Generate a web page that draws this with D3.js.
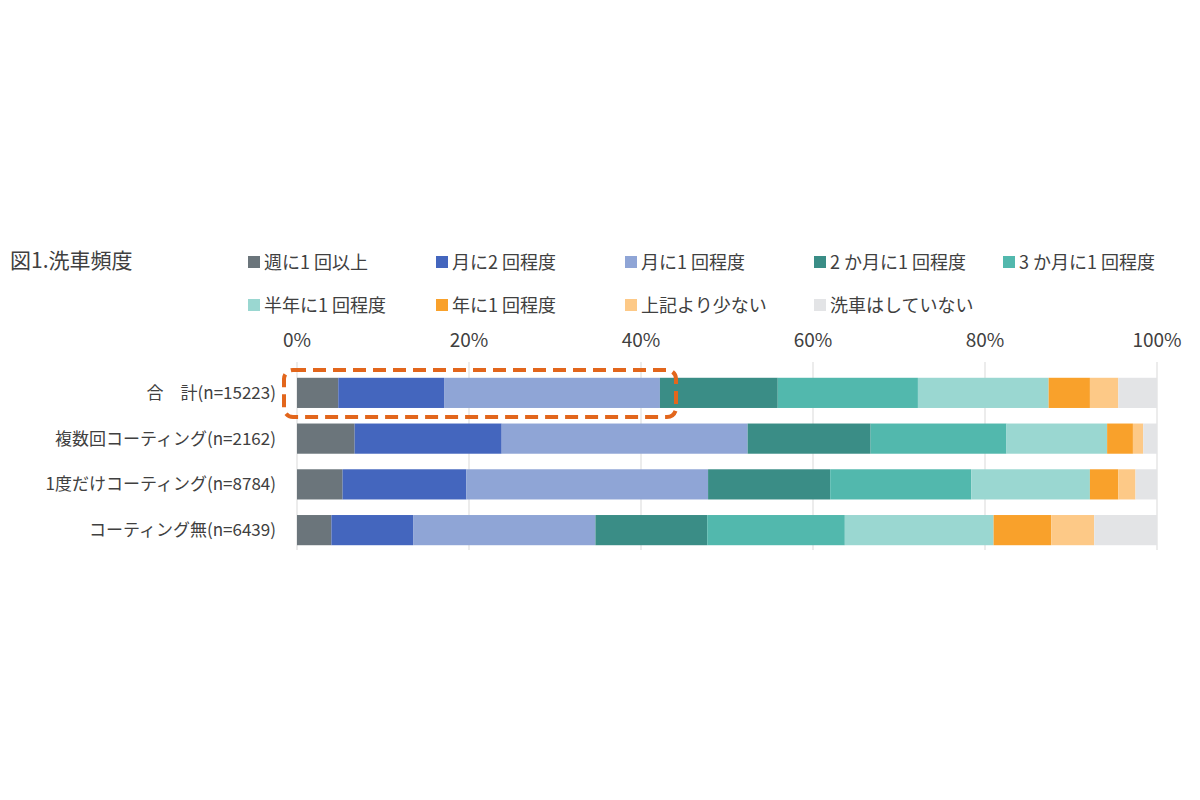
<!DOCTYPE html>
<html><head><meta charset="utf-8">
<script src="https://cdn.jsdelivr.net/npm/d3@7"></script>
<style>body{margin:0;background:#fff}text{font-family:"Noto Sans CJK JP","Noto Sans",sans-serif;fill:#404040}</style>
</head><body><svg id="c" width="1200" height="800"></svg>
<script>
const categories=["合　計(n=15223)","複数回コーティング(n=2162)","1度だけコーティング(n=8784)","コーティング無(n=6439)"];
const seriesNames=["週に1 回以上","月に2 回程度","月に1 回程度","2 か月に1 回程度","3 か月に1 回程度","半年に1 回程度","年に1 回程度","上記より少ない","洗車はしていない"];
const colors=["#6b757b","#4466be","#8fa5d6","#3a8d86","#52b8ad","#9ad7d1","#f9a12b","#fdc987","#e3e4e6"];
const values=[
 [4.8,12.3,25.1,13.7,16.3,15.2,4.8,3.3,4.5],
 [6.7,17.1,28.6,14.3,15.8,11.7,3.0,1.2,1.6],
 [5.3,14.4,28.1,14.2,16.4,13.8,3.3,2.0,2.5],
 [4.0,9.5,21.2,13.0,16.0,17.3,6.7,5.0,7.3]];
const tickLabels=["0%","20%","40%","60%","80%","100%"];
const svg=d3.select("#c");
const x=d3.scaleLinear().domain([0,100]).range([297,1157]);
const y=d3.scaleBand().domain(categories).range([370,553]).paddingInner(0.34).paddingOuter(0.17);
[0,20,40,60,80,100].forEach((t,i)=>{
 svg.append("line").attr("x1",x(t)).attr("x2",x(t)).attr("y1",362).attr("y2",550).attr("stroke","#d9d9d9");
 svg.append("text").attr("x",x(t)).attr("y",347).attr("text-anchor","middle").attr("font-size",19).text(tickLabels[i]);
});
categories.forEach((c,r)=>{
 let acc=0;
 values[r].forEach((v,k)=>{
  svg.append("rect").attr("x",x(acc)).attr("width",x(acc+v)-x(acc)).attr("y",y(c)).attr("height",y.bandwidth()).attr("fill",colors[k]);
  acc+=v;
 });
 svg.append("text").attr("x",276).attr("y",y(c)+y.bandwidth()/2+6).attr("text-anchor","end").attr("font-size",17).text(c);
});
svg.append("rect").attr("x",284).attr("y",370).attr("width",392).attr("height",47).attr("rx",9)
 .attr("fill","none").attr("stroke","#e2661c").attr("stroke-width",4).attr("stroke-dasharray","13,7");
svg.append("text").attr("x",10).attr("y",268).attr("font-size",21).text("図1.洗車頻度");
const lx=[248,436,625,814,1003];
seriesNames.forEach((s,i)=>{
 const px=lx[i%5], py=i<5?262:305;
 svg.append("rect").attr("x",px).attr("y",py-6).attr("width",12).attr("height",12).attr("fill",colors[i]);
 svg.append("text").attr("x",px+16).attr("y",py+7).attr("font-size",18).text(s);
});
</script></body></html>
